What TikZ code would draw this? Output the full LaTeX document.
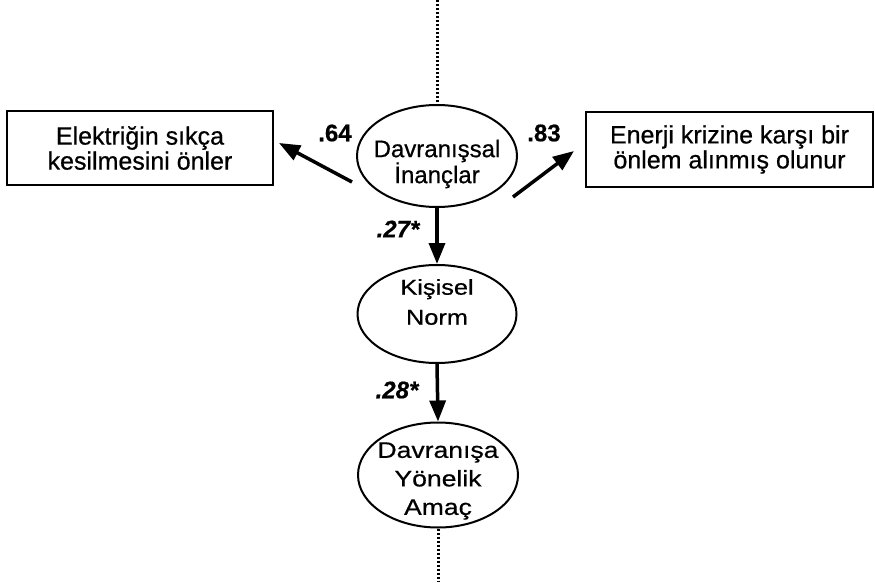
\documentclass[tikz,border=0pt]{standalone}
\usepackage{fontspec}
\setmainfont[FakeBold=0.6]{Liberation Sans}
\newfontfamily\widesans[FakeStretch=1.18,FakeBold=0.6]{Liberation Sans}
\usetikzlibrary{arrows.meta,shapes.geometric}
\begin{document}
\begin{tikzpicture}[x=1pt,y=1pt,
    lat/.style={draw,line width=2pt,ellipse,inner sep=0pt},
    lattext/.style={align=center,inner sep=0pt},
    obs/.style={draw,line width=2pt,rectangle,inner sep=0pt,align=center,
        font=\fontsize{25}{25}\selectfont},
    arr/.style={line width=3.5pt,-{Triangle[length=21pt,width=16pt]}},
    dots/.style={line width=3pt,dash pattern=on 2pt off 2pt},
    coef/.style={font=\fontsize{24}{24}\selectfont\bfseries},
    coefs/.style={font=\fontsize{24}{24}\selectfont\bfseries\itshape}]
    \useasboundingbox(0,0)rectangle(875,582);
    \node[lat,minimum width=160pt,minimum height=102pt,
        label={[lattext,yshift=-8pt,font=\fontsize{24}{26}\selectfont]center:Davranışsal\\İnançlar}](inanc)at(437,426){};
    \node[lat,minimum width=159pt,minimum height=98pt,
        label={[lattext,yshift=12pt,font=\widesans\fontsize{21.5}{30}\selectfont]center:Kişisel\\Norm}](norm)at(437,268){};
    \node[lat,minimum width=160pt,minimum height=105pt,
        label={[lattext,yshift=-6pt,font=\widesans\fontsize{22.5}{28.5}\selectfont]center:Davranışa\\Yönelik\\Amaç}](amac)at(438,107){};
    \node[obs,minimum width=266pt,minimum height=74pt](elek)at(140,434){Elektriğin sıkça\\kesilmesini önler};
    \node[obs,minimum width=287pt,minimum height=75pt](enerji)at(729.5,432.5){Enerji krizine karşı bir\\önlem alınmış olunur};
    \coordinate(top)at(437,582);
    \coordinate(bot)at(438,0);
    \draw[dots](top)--(inanc.north);
    \draw[dots](amac.south)--(bot);
    \draw[arr]([shift={(-4,-26)}]inanc.west)--([shift={(5,5)}]elek.east);
    \draw[arr]([shift={(-5,-41)}]inanc.east)--([shift={(-11,-1.5)}]enerji.west);
    \draw[arr](inanc.south)--(norm.north);
    \draw[arr](norm.south)--(amac.north);
    \node[coef](l64)at(335,449){.64};
    \node[coef](l83)at(544,449){.83};
    \node[coefs](l27)at(398,353){.27*};
    \node[coefs](l28)at(397,192){.28*};
\end{tikzpicture}
\end{document}
